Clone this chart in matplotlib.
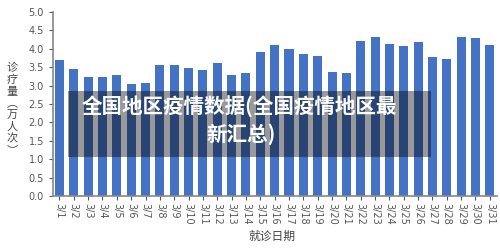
import matplotlib
matplotlib.use("Agg")
import matplotlib.pyplot as plt
from matplotlib.patches import Rectangle

plt.rcParams['font.family'] = ['Noto Sans CJK SC', 'DejaVu Sans']

# Data
dates = ["3/%d" % d for d in range(1, 32)]
visits = [3.70, 3.44, 3.24, 3.24, 3.28, 3.05, 3.07, 3.56, 3.56, 3.48,
          3.42, 3.61, 3.28, 3.33, 3.91, 4.11, 4.00, 3.86, 3.80, 3.37,
          3.35, 4.21, 4.33, 4.12, 4.08, 4.18, 3.79, 3.72, 4.33, 4.29, 4.10]
yticks = [0.0, 0.5, 1.0, 1.5, 2.0, 2.5, 3.0, 3.5, 4.0, 4.5, 5.0]
ylabel_chars = ["诊", "疗", "量", "︵", "万", "人", "次", "︶"]

fig = plt.figure(figsize=(5, 2.5), dpi=100)
ax = fig.add_axes([0.106, 0.216, 0.888, 0.736])

x = list(range(len(dates)))
ax.bar(x, visits, width=0.63, color='#4472C4')

ax.set_xlim(-0.45, len(dates) - 0.5)
ax.set_ylim(0, 5.0)
ax.set_yticks(yticks)
ax.set_yticklabels(["%.1f" % v for v in yticks], family='DejaVu Sans')
ax.set_xticks(x)
ax.set_xticklabels(dates, rotation=270, family='DejaVu Sans')
ax.tick_params(axis='both', labelsize=7, colors='#555555', length=3, width=0.8)
ax.tick_params(axis='x', pad=2)

for s in ['top', 'right']:
    ax.spines[s].set_visible(False)
for s in ['left', 'bottom']:
    ax.spines[s].set_color('#888888')
    ax.spines[s].set_linewidth(1.2)

# y label, one upright character per row
for i, ch in enumerate(ylabel_chars):
    fig.text(0.024, 1 - (68 + i * 11.8) / 250, ch, ha='center', va='center',
             fontsize=8, color='#444444')
fig.text(0.544, 0.055, "就诊日期", ha='center', va='center', fontsize=8.5, color='#444444')

# dark overlay with the title
fig.patches.append(Rectangle((68 / 500, 1 - 157 / 250), (431 - 68) / 500, (157 - 91) / 250,
                             transform=fig.transFigure, facecolor='black', alpha=0.4,
                             edgecolor='none', zorder=5))
fig.text(0.478, 1 - 107 / 250, "全国地区疫情数据(全国疫情地区最", ha='center', va='center',
         fontsize=14.8, color='white', fontweight='bold', zorder=6)
fig.text(0.482, 1 - 134 / 250, "新汇总)", ha='center', va='center',
         fontsize=14.8, color='white', fontweight='bold', zorder=6)

fig.savefig("out.png", dpi=100)
